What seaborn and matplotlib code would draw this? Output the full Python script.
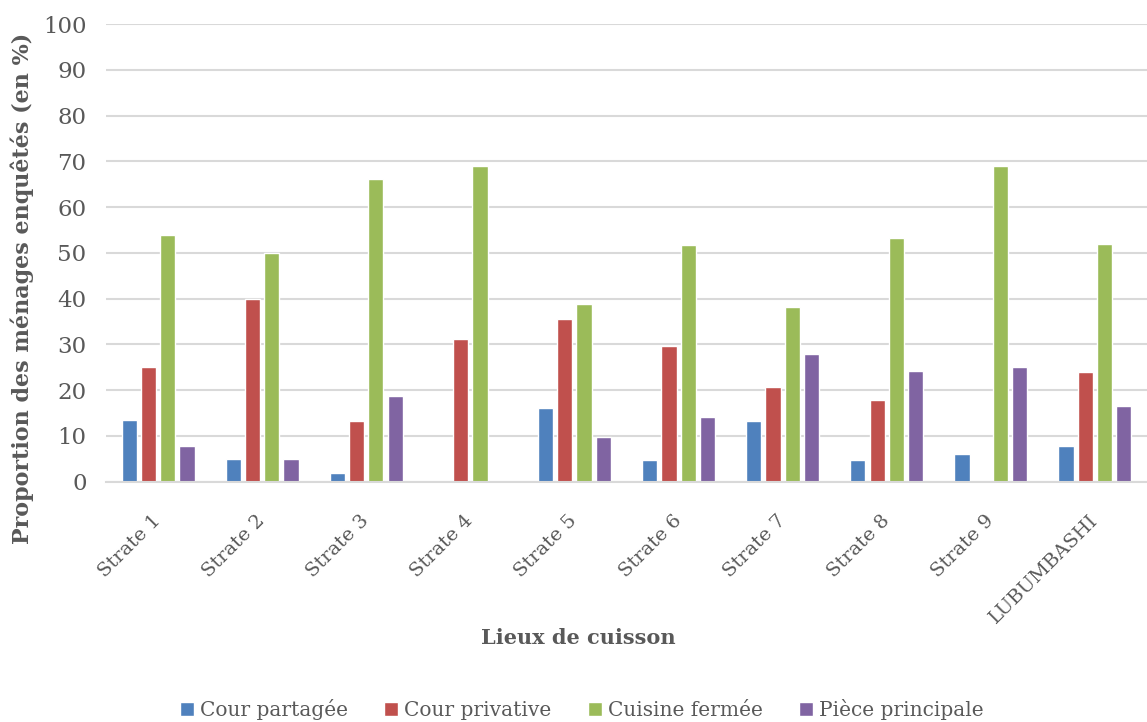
import pandas as pd
import seaborn as sns
import matplotlib.pyplot as plt
from matplotlib.patches import Patch

# Données (en %)
strates = ['Strate 1', 'Strate 2', 'Strate 3', 'Strate 4', 'Strate 5',
           'Strate 6', 'Strate 7', 'Strate 8', 'Strate 9', 'LUBUMBASHI']
lieux = ['Cour partagée', 'Cour privative', 'Cuisine fermée', 'Pièce principale']
cour_partagee = [13.4, 4.9, 1.9, 0, 16.1, 4.7, 13.3, 4.8, 6.1, 7.7]
cour_privative = [25.0, 39.9, 13.2, 31.2, 35.6, 29.7, 20.7, 17.9, 0, 24.0]
cuisine_fermee = [53.9, 50.0, 66.2, 68.9, 38.9, 51.6, 38.2, 53.3, 68.9, 52.0]
piece_principale = [7.7, 4.9, 18.8, 0, 9.7, 14.1, 27.8, 24.2, 25.0, 16.6]
couleurs = ['#4F81BD', '#C0504D', '#9BBB59', '#8064A2']

df = pd.DataFrame({
    'Strate': strates * 4,
    'Lieu': sum([[l] * len(strates) for l in lieux], []),
    'Valeur': cour_partagee + cour_privative + cuisine_fermee + piece_principale,
})

sns.set_theme(style='white')
plt.rcParams['font.family'] = ['DejaVu Serif']
gris = '#595959'

fig = plt.figure(figsize=(11.47, 7.22), dpi=100)
ax = fig.add_axes([0.0924, 0.333, 0.9076, 0.6337])

sns.barplot(data=df, x='Strate', y='Valeur', hue='Lieu', order=strates,
            hue_order=lieux, palette=couleurs, width=0.74, gap=0.21,
            saturation=1, legend=False, ax=ax)

ax.set_ylim(0, 100)
ax.set_xlim(-0.5, len(strates) - 0.5)
ax.set_yticks(range(0, 101, 10))
ax.yaxis.grid(True, color='#D9D9D9', linewidth=1.5)
ax.set_axisbelow(True)
for s in ['top', 'right', 'left']:
    ax.spines[s].set_visible(False)
ax.spines['bottom'].set_color('#D9D9D9')
ax.spines['bottom'].set_linewidth(1.5)
ax.tick_params(axis='both', length=0, colors=gris)
ax.tick_params(axis='y', pad=14, labelsize=16.5)
ax.tick_params(axis='x', pad=26, labelsize=14)
plt.setp(ax.get_xticklabels(), rotation=45, ha='right', va='center',
         rotation_mode='anchor')

# titre de l'axe y placé comme dans l'original (centré un peu plus bas)
ax.set_ylabel('')
fig.text(22 / 1147, 1 - 288 / 722, 'Proportion des ménages enquêtés (en %)',
         rotation=90, ha='center', va='center', fontsize=16,
         fontweight='bold', color=gris)
ax.set_xlabel('Lieux de cuisson', fontsize=15, fontweight='bold', color=gris)
ax.xaxis.set_label_coords((578 - 106) / 1041, -0.32)

handles = [Patch(facecolor=c, label=l) for c, l in zip(couleurs, lieux)]
fig.legend(handles=handles, loc='center', ncol=4, frameon=False,
           bbox_to_anchor=(0.507, 0.017),
           prop={'family': 'DejaVu Serif', 'size': 14.5}, handlelength=0.7,
           handleheight=0.7, handletextpad=0.3, columnspacing=1.8,
           labelcolor=gris)

fig.savefig('out.png', dpi=100)
